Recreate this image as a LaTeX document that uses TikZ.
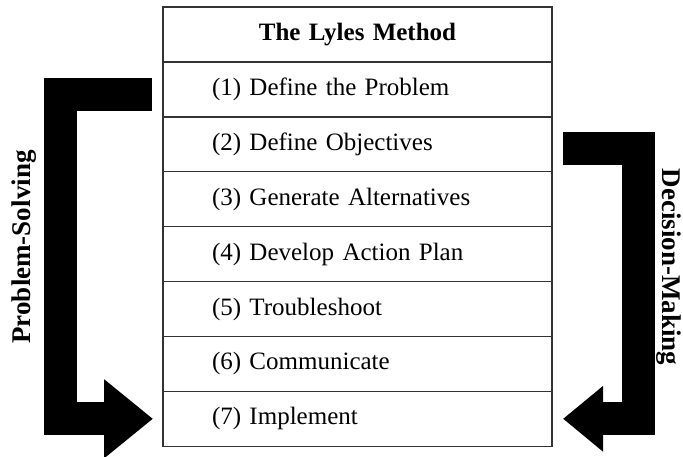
\documentclass[tikz,border=0pt]{standalone}
\usepackage{fontspec}
\setmainfont{Liberation Serif}
\usepackage{tikz}
\usetikzlibrary{arrows.meta,positioning}
\definecolor{lyink}{HTML}{333333}
\tikzset{
  stepRow/.style={draw=lyink, line width=1.4pt, outer sep=0pt, minimum width=389pt, minimum height=54.9pt, text width=291pt, inner xsep=49pt, align=left, font=\fontsize{25}{29}\selectfont},
  headRow/.style={stepRow, align=center, font=\fontsize{25}{29}\selectfont\bfseries},
  bracketArrow/.style={line width=33pt, draw=black, line join=miter},
  sideLabel/.style={font=\fontsize{27}{31}\selectfont\bfseries}
}
\begin{document}
\begin{tikzpicture}[x=1pt, y=-1pt]
  \useasboundingbox (0,0) rectangle (683,457);
  \node[headRow] (head) at (357.5,34.5) {The Lyles Method};
  \node[stepRow, below=0pt of head] (one) {(1) Define the Problem};
  \node[stepRow, below=0pt of one] (two) {(2) Define Objectives};
  \node[stepRow, below=0pt of two] (three) {(3) Generate Alternatives};
  \node[stepRow, below=0pt of three] (four) {(4) Develop Action Plan};
  \node[stepRow, below=0pt of four] (five) {(5) Troubleshoot};
  \node[stepRow, below=0pt of five] (six) {(6) Communicate};
  \node[stepRow, below=0pt of six] (seven) {(7) Implement};

  % bent arrows on both sides of the table
  \draw[bracketArrow, -{Triangle[length=49pt, width=76pt]}]
    ([xshift=-11pt, yshift=-5pt]one.west) -- ++(-92,0) |- ([xshift=-10pt]seven.west);
  \draw[bracketArrow, -{Triangle[length=40pt, width=63pt]}]
    ([xshift=11pt, yshift=-4pt]two.east) -- ++(75,0) |- ([xshift=11pt]seven.east);

  \node[sideLabel, rotate=90] (solving) at (24,247) {Problem-Solving};
  \node[sideLabel, rotate=-90] (deciding) at (669,267) {Decision-Making};
\end{tikzpicture}
\end{document}
